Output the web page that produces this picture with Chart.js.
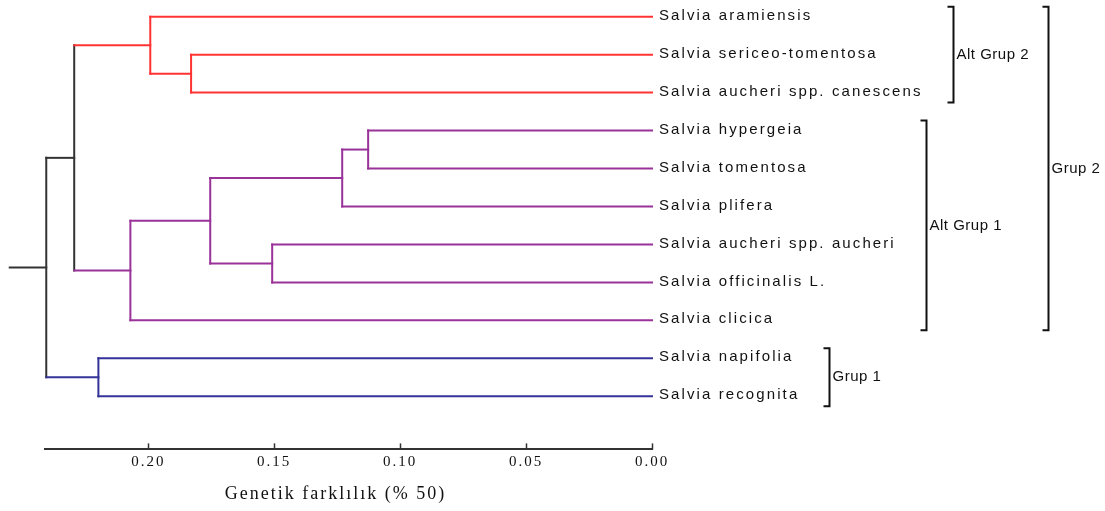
<!DOCTYPE html>
<html>
<head>
<meta charset="utf-8">
<script src="https://cdn.jsdelivr.net/npm/chart.js@4/dist/chart.umd.min.js"></script>
<style>
  html, body { margin: 0; padding: 0; background: #fff; }
  #wrap { width: 1105px; height: 511px; }
</style>
</head>
<body>
<div id="wrap"><canvas id="dendro" width="1105" height="511"></canvas></div>
<script>
// leaves, top to bottom
const leafNames = [
    'Salvia aramiensis',
    'Salvia sericeo-tomentosa',
    'Salvia aucheri spp. canescens',
    'Salvia hypergeia',
    'Salvia tomentosa',
    'Salvia plifera',
    'Salvia aucheri spp. aucheri',
    'Salvia officinalis L.',
    'Salvia clicica',
    'Salvia napifolia',
    'Salvia recognita'
];

// merges: node ids 0-10 are leaves, merge k makes node 11+k
const mergeA = [3, 11, 6, 12, 1, 0, 14, 9, 16, 19];
const mergeB = [4, 5, 7, 13, 2, 15, 8, 10, 17, 18];
const mergeHeight = [0.1127, 0.1230, 0.1508, 0.1754, 0.1830, 0.1992, 0.2071, 0.2198, 0.2294, 0.2405];
const rootStub = 0.0145;

// x axis
const axisMax = 0.241;
const tickStep = 0.05;
const axisTitle = 'Genetik farklılık (% 50)';

// brackets on the right
const groupNames = ['Alt Grup 2', 'Alt Grup 1', 'Grup 1', 'Grup 2'];
const groupFirst = [0, 3, 9, 0];
const groupLast = [2, 8, 10, 8];

// styles
const RED = '#ff3333', PURPLE = '#993399', BLUE = '#333399', BLACK = '#333333';
const mergeColor = [PURPLE, PURPLE, PURPLE, PURPLE, RED, RED, PURPLE, BLUE, BLACK, BLACK];
const TEXT = '#111111';

// tree layout from the merge list
const n = leafNames.length;
const nodeY = leafNames.map((_, i) => i);
const nodeH = leafNames.map(() => 0);
const parent = [];
mergeA.forEach((a, k) => {
    const b = mergeB[k];
    nodeY.push((nodeY[a] + nodeY[b]) / 2);
    nodeH.push(mergeHeight[k]);
    parent[a] = n + k;
    parent[b] = n + k;
});
const root = nodeY.length - 1;

function seg(x1, y1, x2, y2, color) {
    return {
        data: [{ x: x1, y: y1 }, { x: x2, y: y2 }],
        borderColor: color,
        borderWidth: 2,
        borderCapStyle: 'square',
        pointRadius: 0,
        showLine: true,
        clip: false
    };
}

const datasets = [];
for (let i = 0; i < root; i++) {
    const p = parent[i];
    const color = i < n ? mergeColor[p - n] : mergeColor[i - n];
    datasets.push(seg(nodeH[i], nodeY[i], nodeH[p], nodeY[i], color));
}
mergeA.forEach((a, k) => {
    datasets.push(seg(mergeHeight[k], nodeY[a], mergeHeight[k], nodeY[mergeB[k]], mergeColor[k]));
});
datasets.push(seg(nodeH[root], nodeY[root], nodeH[root] + rootStub, nodeY[root], BLACK));

const labelPlugin = {
    id: 'labels',
    beforeDraw(chart) {
        chart.ctx.letterSpacing = '2px';
    },
    beforeDatasetsDraw(chart) {
        chart.ctx.letterSpacing = '0px';
    },
    afterDraw(chart) {
        const { ctx, scales: { x, y }, chartArea } = chart;
        ctx.save();

        // tick marks point up from the axis line
        ctx.strokeStyle = BLACK;
        ctx.lineWidth = 1.5;
        x.ticks.forEach(t => {
            const px = Math.round(x.getPixelForValue(t.value)) + 0.5;
            ctx.beginPath();
            ctx.moveTo(px, chartArea.bottom - 6);
            ctx.lineTo(px, chartArea.bottom);
            ctx.stroke();
        });

        // leaf names
        ctx.fillStyle = TEXT;
        ctx.font = '15px "Liberation Sans", Arial, sans-serif';
        ctx.letterSpacing = '2.1px';
        ctx.textBaseline = 'middle';
        ctx.textAlign = 'left';
        const x0 = x.getPixelForValue(0) + 7;
        const labelEnd = leafNames.map((name, i) => {
            ctx.fillText(name, x0, y.getPixelForValue(i) - 1);
            return x0 + ctx.measureText(name).width;
        });

        // brackets, inner groups first
        ctx.letterSpacing = '0.5px';
        const order = groupNames.map((_, g) => g)
            .sort((a, b) => (groupLast[a] - groupFirst[a]) - (groupLast[b] - groupFirst[b]));
        const groupEnd = [];
        order.forEach(g => {
            let bx = 0;
            for (let i = groupFirst[g]; i <= groupLast[g]; i++) bx = Math.max(bx, labelEnd[i] + 30);
            order.forEach(h => {
                if (h !== g && groupEnd[h] !== undefined &&
                    groupFirst[h] >= groupFirst[g] && groupLast[h] <= groupLast[g]) {
                    bx = Math.max(bx, groupEnd[h] + 19);
                }
            });
            bx = Math.round(bx) + 0.5;
            const top = y.getPixelForValue(groupFirst[g]) - 10;
            const bottom = y.getPixelForValue(groupLast[g]) + 10;
            ctx.strokeStyle = TEXT;
            ctx.lineWidth = 2;
            ctx.beginPath();
            ctx.moveTo(bx - 6, top);
            ctx.lineTo(bx, top);
            ctx.lineTo(bx, bottom);
            ctx.lineTo(bx - 6, bottom);
            ctx.stroke();
            ctx.fillText(groupNames[g], bx + 3, (top + bottom) / 2);
            groupEnd[g] = bx + 3 + ctx.measureText(groupNames[g]).width;
        });
        ctx.restore();
    }
};

new Chart(document.getElementById('dendro'), {
    type: 'scatter',
    data: { datasets },
    options: {
        responsive: false,
        animation: false,
        devicePixelRatio: 1,
        layout: { padding: { left: 45, right: 453, top: 0, bottom: 0 } },
        plugins: { legend: { display: false }, tooltip: { enabled: false } },
        scales: {
            x: {
                type: 'linear',
                position: 'bottom',
                reverse: true,
                min: 0,
                max: axisMax,
                grid: { drawOnChartArea: false, drawTicks: false },
                border: { display: true, color: BLACK, width: 2 },
                ticks: {
                    stepSize: tickStep,
                    includeBounds: false,
                    padding: 4,
                    color: TEXT,
                    font: { family: '"Liberation Serif", serif', size: 15 },
                    callback: v => v.toFixed(2)
                },
                title: {
                    display: true,
                    // trailing spaces pull the centred title a little left, as in the original
                    text: axisTitle + '    ',
                    color: TEXT,
                    font: { family: '"Liberation Serif", serif', size: 18 },
                    padding: { top: 8, bottom: 6 }
                }
            },
            y: {
                type: 'linear',
                display: false,
                reverse: true,
                min: -0.44,
                max: 11.4
            }
        }
    },
    plugins: [labelPlugin]
});
</script>
</body>
</html>
